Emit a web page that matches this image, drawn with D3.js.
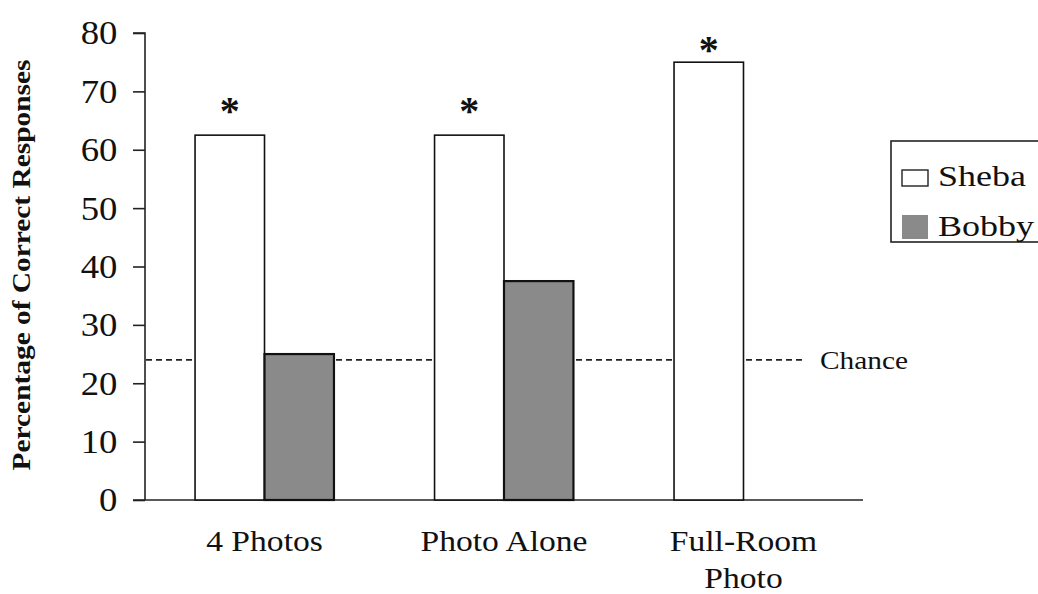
<!DOCTYPE html>
<html><head><meta charset="utf-8">
<script src="https://cdn.jsdelivr.net/npm/d3@7"></script>
<style>body{margin:0;background:#fff}svg{display:block}text{font-family:"Liberation Serif","Times New Roman",serif;fill:#111}</style>
</head><body><svg id="c" width="1038" height="594"></svg>
<script>
const categories = ["4 Photos", "Photo Alone", "Full-Room Photo"];
const categoryLines = [["4 Photos"], ["Photo Alone"], ["Full-Room", "Photo"]];
const series = ["Sheba", "Bobby"];
const shebaValues = [62.5, 62.5, 75];
const bobbyValues = [25, 37.5, null];
const significant = [true, true, true];
const chanceLevel = 24;
const yTicks = [0, 10, 20, 30, 40, 50, 60, 70, 80];
const yLabel = "Percentage of Correct Responses";
const chanceLabel = "Chance";

const svg = d3.select("#c");
const y = d3.scaleLinear().domain([0, 80]).range([500, 33]);
const x = d3.scaleBand().domain(categories).range([145, 863]).paddingInner(0.42).paddingOuter(0.209);
const xs = d3.scaleBand().domain(series).range([0, x.bandwidth()]);
const colors = {Sheba: "#ffffff", Bobby: "#8a8a8a"};

function stretchedText(parent, px, py, sx, size, str, anchor) {
  return parent.append("g").attr("transform", `translate(${px},${py}) scale(${sx},1)`)
    .append("text").attr("text-anchor", anchor || "start").attr("font-size", size).text(str);
}

// y axis
const ya = svg.append("g").attr("transform", "translate(145,0)")
  .call(d3.axisLeft(y).tickValues(yTicks).tickSize(12).tickPadding(14));
ya.select(".domain").attr("stroke", "#222").attr("stroke-width", 1.6).attr("d", `M-12,${y(80)}H0V${y(0)}`);
ya.selectAll(".tick line").attr("stroke", "#222").attr("stroke-width", 1.6);
ya.selectAll(".tick text").attr("font-size", 34).attr("font-family", "Liberation Serif").attr("fill", "#111")
  .attr("x", -25.5).attr("transform", "scale(1.08,1)");

// x axis line
const xa = svg.append("g").attr("transform", `translate(0,${y(0)})`)
  .call(d3.axisBottom(x).tickSize(0).tickFormat(""));
xa.select(".domain").attr("stroke", "#222").attr("stroke-width", 1.6).attr("d", "M133,0H863");

// chance line
svg.append("line").attr("x1", 146).attr("x2", 802).attr("y1", y(chanceLevel)).attr("y2", y(chanceLevel))
  .attr("stroke", "#222").attr("stroke-width", 1.7).attr("stroke-dasharray", "6,4");
stretchedText(svg, 820, y(chanceLevel), 1.13, 26, chanceLabel).attr("dy", "0.35em");

// bars
const rows = categories.map((c, i) => ({c, vals: [{s: "Sheba", v: shebaValues[i]}, {s: "Bobby", v: bobbyValues[i]}]}));
const g = svg.selectAll("g.grp").data(rows).join("g").attr("class", "grp").attr("transform", d => `translate(${x(d.c)},0)`);
g.selectAll("rect").data(d => d.vals.filter(e => e.v != null)).join("rect")
  .attr("x", d => xs(d.s)).attr("width", xs.bandwidth())
  .attr("y", d => y(d.v)).attr("height", d => y(0) - y(d.v))
  .attr("fill", d => colors[d.s]).attr("stroke", "#111").attr("stroke-width", d => d.s === "Bobby" ? 2.2 : 1.6);

// asterisks
svg.selectAll("text.star").data(categories.filter((c, i) => significant[i])).join("text").attr("class", "star")
  .attr("x", (c) => x(c) + xs("Sheba") + xs.bandwidth() / 2)
  .attr("y", (c) => Math.max(y(shebaValues[categories.indexOf(c)]) - 36, y(80) + 5))
  .attr("text-anchor", "middle").attr("dy", "0.62em").attr("font-size", 40).attr("font-weight", "bold").text("*");

// category labels
categories.forEach((c, i) => {
  categoryLines[i].forEach((line, j) => {
    stretchedText(svg, x(c) + x.bandwidth() / 2, 551 + j * 37, 1.12, 30, line, "middle");
  });
});

// y label
svg.append("g").attr("transform", "translate(30,265) rotate(-90) scale(1.13,1)")
  .append("text").attr("text-anchor", "middle").attr("font-size", 26).attr("font-weight", "bold").text(yLabel);

// legend
const lg = svg.append("g");
lg.append("rect").attr("x", 891).attr("y", 141).attr("width", 160).attr("height", 101).attr("fill", "#fff").attr("stroke", "#222").attr("stroke-width", 1.6);
series.forEach((s, i) => {
  const yy = [170, 215][i];
  lg.append("rect").attr("x", 902).attr("y", yy).attr("width", 26).attr("height", [16, 24][i])
    .attr("fill", colors[s]).attr("stroke", s === "Sheba" ? "#222" : "none").attr("stroke-width", 1.4);
  stretchedText(lg, 938, [186, 236][i], 1.2, 30, s);
});
</script></body></html>
